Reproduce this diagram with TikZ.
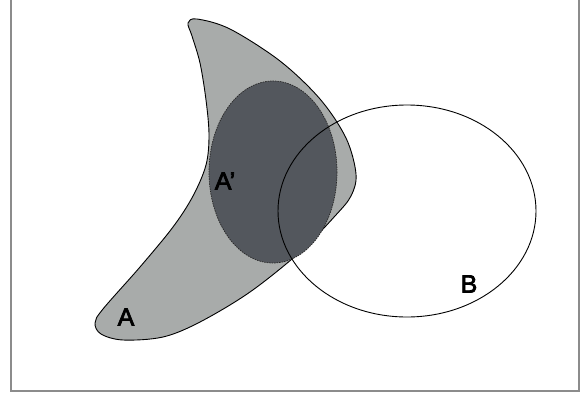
\documentclass[tikz,border=0pt]{standalone}
\usepackage{fontspec}
\setmainfont{Liberation Sans}
\newfontfamily\labfont[FakeBold=3]{Liberation Sans}
\definecolor{lightfill}{HTML}{A8ABAA}
\definecolor{darkfill}{HTML}{53575D}
\definecolor{framegray}{HTML}{8C8C8C}
\begin{document}
\begin{tikzpicture}[x=1pt,y=-1pt,
  outline/.style={draw=black,line width=0.9pt},
  label/.style={font=\labfont\fontsize{25}{25}\selectfont,inner sep=0pt}]
\useasboundingbox (0,0) rectangle (585,399);
\draw[framegray,line width=1.2pt] (11,0) -- (11,391) -- (579,391) -- (579,0);
% crescent A
\draw[outline,fill=lightfill] plot[smooth cycle,tension=0.55] coordinates {
 (188,23) (197,19) (230,29) (280,61) (320,99) (346,138) (356,174) (351,196)
 (335,216) (300,252) (250,292) (200,322) (163,337) (123,340) (101,334) (95,323)
 (103,309) (140,267) (173,227) (193,196) (206,165) (209,135) (206,100) (200,63) (192,36)};
% A'
\draw[black!85,line width=0.7pt,dash pattern=on 1.5pt off 1pt,fill=darkfill] (273,172) ellipse [x radius=64, y radius=91];
% B
\draw[outline] (407,211) ellipse [x radius=129, y radius=106];
\node[label] (la) at (126,317) {A};
\node[label] (lap) at (225,181) {A’};
\node[label] (lb) at (469,284) {B};
\end{tikzpicture}
\end{document}
